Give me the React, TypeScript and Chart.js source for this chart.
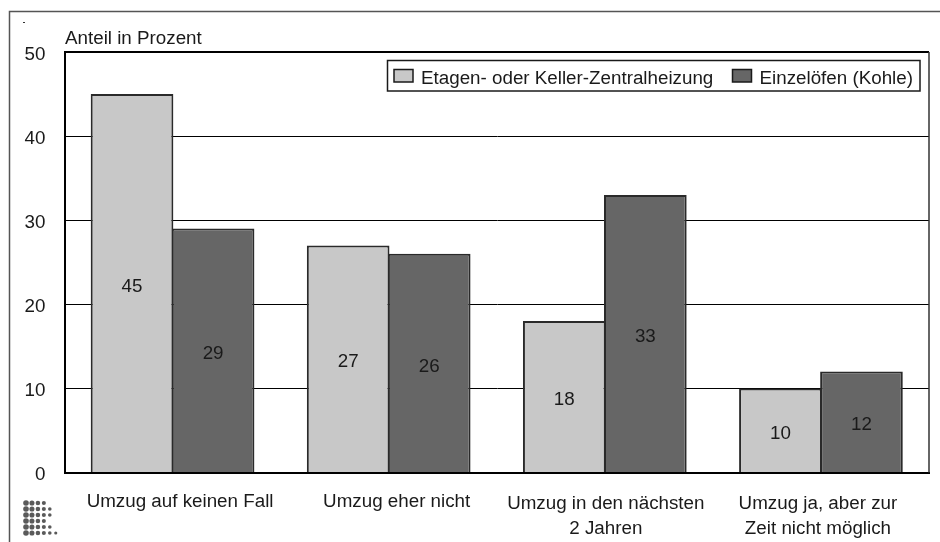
import React, { useEffect, useRef } from "react";
import { Chart, registerables } from "chart.js";

Chart.register(...registerables);

const categories: (string | string[])[] = [
  "Umzug auf keinen Fall",
  "Umzug eher nicht",
  ["Umzug in den nächsten", "2 Jahren"],
  ["Umzug ja, aber zur", "Zeit nicht möglich"],
];
const zentralheizung = [45, 27, 18, 10];
const einzeloefen = [29, 26, 33, 12];
const seriesNames = ["Etagen- oder Keller-Zentralheizung", "Einzelöfen (Kohle)"];
const axisCaption = "Anteil in Prozent";
const dotRows = [4, 5, 5, 4, 5, 6];

const labelNudgeX = [7.5, 8, 1, -3];
const labelNudgeY = [0, 0, 1.5, 1.5];

const FONT = '18.8px "Liberation Sans", Arial, sans-serif';
const INK = "#1a1a1a";
const LIGHT = "#c8c8c8";
const DARK = "#666666";

const nudgeLabels = {
  id: "nudgeLabels",
  afterUpdate(chart: any) {
    chart.scales.x.getLabelItems().forEach((item: any, i: number) => {
      const t = item.options.translation;
      item.options.translation = [t[0] + labelNudgeX[i], t[1] + labelNudgeY[i]];
    });
  },
};

const decor = {
  id: "decor",
  afterDraw(chart: any) {
    const { ctx, chartArea } = chart;
    ctx.save();
    // outer frame
    ctx.strokeStyle = "#555555";
    ctx.lineWidth = 1.5;
    ctx.beginPath();
    ctx.moveTo(9.5, 542);
    ctx.lineTo(9.5, 11.5);
    ctx.lineTo(940, 11.5);
    ctx.stroke();
    // right edge of the plot
    ctx.strokeStyle = "#333333";
    ctx.beginPath();
    ctx.moveTo(chartArea.right, chartArea.top);
    ctx.lineTo(chartArea.right, chartArea.bottom);
    ctx.stroke();
    // speck
    ctx.fillStyle = "#333";
    ctx.fillRect(23, 22, 2, 1);
    // axis caption
    ctx.font = FONT;
    ctx.fillStyle = INK;
    ctx.textBaseline = "alphabetic";
    ctx.textAlign = "left";
    ctx.fillText(axisCaption, chartArea.left + 0.5, 44);
    // value labels in bar centres
    ctx.textAlign = "center";
    ctx.textBaseline = "middle";
    chart.data.datasets.forEach((ds: any, i: number) => {
      chart.getDatasetMeta(i).data.forEach((bar: any, j: number) => {
        ctx.fillText(String(ds.data[j]), bar.x, (bar.y + bar.base) / 2 + 3.5);
      });
    });
    // legend
    ctx.fillStyle = "#ffffff";
    ctx.strokeStyle = INK;
    ctx.lineWidth = 1.5;
    ctx.fillRect(387.5, 60.5, 532.5, 30.5);
    ctx.strokeRect(387.5, 60.5, 532.5, 30.5);
    const items = [
      { x: 394, color: LIGHT },
      { x: 732.5, color: DARK },
    ];
    items.forEach((it, i) => {
      ctx.fillStyle = it.color;
      ctx.fillRect(it.x, 69.5, 19, 12.5);
      ctx.strokeRect(it.x, 69.5, 19, 12.5);
      ctx.fillStyle = INK;
      ctx.textAlign = "left";
      ctx.textBaseline = "alphabetic";
      ctx.fillText(seriesNames[i], it.x + 27, 84);
    });
    // dot logo
    ctx.fillStyle = "#5a5a5a";
    dotRows.forEach((n, r) => {
      for (let c = 0; c < n; c++) {
        ctx.beginPath();
        ctx.arc(26 + c * 5.95, 503 + r * 6, 2.8 - c * 0.25, 0, Math.PI * 2);
        ctx.fill();
      }
    });
    ctx.restore();
  },
};

export default function App() {
  const ref = useRef<HTMLCanvasElement | null>(null);
  useEffect(() => {
    if (!ref.current) return;
    const font = { family: '"Liberation Sans", Arial, sans-serif', size: 18.8, lineHeight: 1.33 };
    const barStyle = { borderColor: "#2a2a2a", borderWidth: 2, barPercentage: 1.02, categoryPercentage: 0.75 };
    const chart = new Chart(ref.current, {
      type: "bar",
      data: {
        labels: categories,
        datasets: [
          { label: seriesNames[0], data: zentralheizung, backgroundColor: LIGHT, ...barStyle },
          { label: seriesNames[1], data: einzeloefen, backgroundColor: DARK, ...barStyle },
        ],
      },
      options: {
        responsive: false,
        animation: false,
        layout: { padding: { top: 52, right: 11, left: 0, bottom: 0 } },
        plugins: { legend: { display: false }, tooltip: { enabled: false } },
        scales: {
          x: {
            grid: { display: false, drawTicks: false },
            border: { display: true, color: "#000", width: 2 },
            ticks: { color: INK, font, padding: 17, maxRotation: 0, autoSkip: false },
            afterFit: (s: any) => { s.height = 69.5; },
          },
          y: {
            min: 0,
            max: 50,
            grid: {
              color: "#000",
              lineWidth: (c: any) => (c.tick && c.tick.value === 50 ? 2 : 1),
              drawTicks: false,
            },
            border: { display: true, color: "#000", width: 2 },
            ticks: { stepSize: 10, color: INK, font, padding: 19, labelOffset: 2.5 },
            afterFit: (s: any) => { s.width = 64.5; },
          },
        },
      },
      plugins: [nudgeLabels, decor],
    });
    return () => chart.destroy();
  }, []);
  return (
    <div style={{ position: "fixed", left: 0, top: 0, width: 940, height: 542, background: "#fff" }}>
      <canvas ref={ref} width={940} height={542} style={{ display: "block" }} />
    </div>
  );
}
